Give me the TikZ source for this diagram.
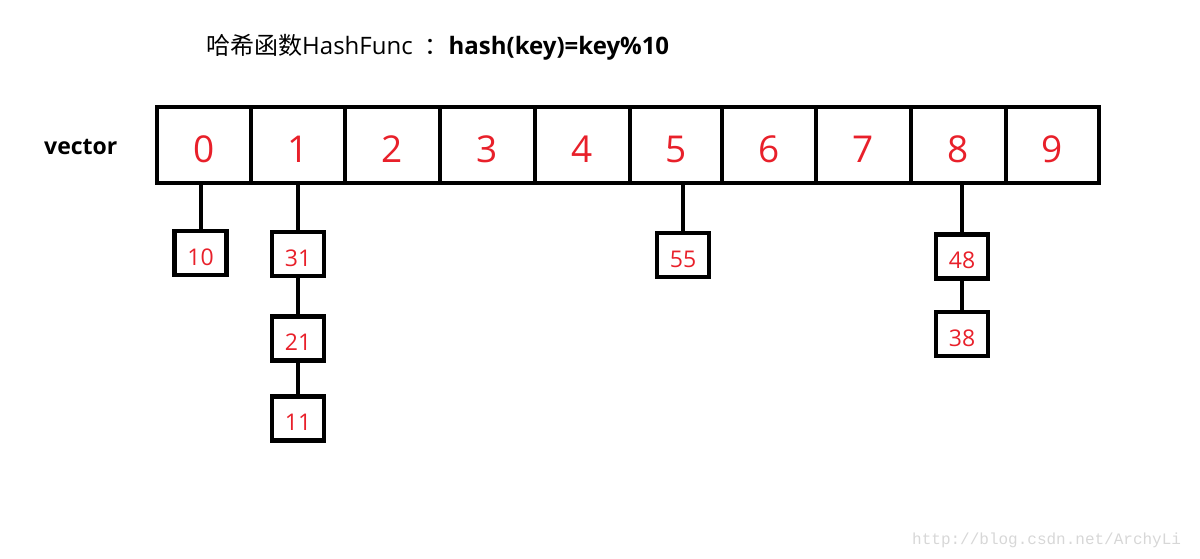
\documentclass[tikz,border=0pt]{standalone}
\usepackage{fontspec}
\setmainfont{Open Sans}
\newfontfamily\cjk{Noto Sans CJK SC}
\newfontfamily\wm{Liberation Mono}
\definecolor{hred}{RGB}{232,32,42}
\definecolor{wmgray}{RGB}{215,215,215}
\begin{document}
\begin{tikzpicture}[x=1pt,y=-1pt,
  cell/.style={draw=black,line width=4pt,inner sep=0pt,minimum height=76pt,text=hred,text height=35pt,text depth=0pt,font=\fontsize{37}{40}\selectfont},
  item/.style={draw=black,line width=4.5pt,inner sep=0pt,minimum width=52pt,minimum height=44pt,text=hred,text height=24pt,text depth=0pt,font=\fontsize{23}{26}\selectfont},
  link/.style={line width=4pt}]
\useasboundingbox (0,0) rectangle (1200,559);
\node[anchor=west,inner sep=0pt,font=\fontsize{24}{28}\selectfont] (title) at (206,47)
  {{\cjk 哈希函数}HashFunc\hspace{0.5em}{\cjk ：}\textbf{hash(key)=key\%10}};
\node[anchor=west,inner sep=0pt,font=\bfseries\fontsize{23}{26}\selectfont] (vec) at (44,147) {vector};
% cells
\node[cell,minimum width=94pt] (c0) at (204,145) {0};
\node[cell,minimum width=94pt] (c1) at (298,145) {1};
\node[cell,minimum width=95pt] (c2) at (392.5,145) {2};
\node[cell,minimum width=95pt] (c3) at (487.5,145) {3};
\node[cell,minimum width=95pt] (c4) at (582.5,145) {4};
\node[cell,minimum width=92pt] (c5) at (676,145) {5};
\node[cell,minimum width=94pt] (c6) at (769,145) {6};
\node[cell,minimum width=95pt] (c7) at (863.5,145) {7};
\node[cell,minimum width=95pt] (c8) at (958.5,145) {8};
\node[cell,minimum width=93pt] (c9) at (1052.5,145) {9};
% chained items
\node[item] (n10) at (200.5,253) {10};
\node[item] (n31) at (298,254) {31};
\node[item] (n21) at (298,338.5) {21};
\node[item] (n11) at (298,418.5) {11};
\node[item] (n55) at (683,255) {55};
\node[item] (n48) at (962,256.5) {48};
\node[item] (n38) at (962,334) {38};
% connectors
\draw[link] (n10.north) -- (n10.north |- c0.south);
\draw[link] (n31.north) -- (n31.north |- c1.south);
\draw[link] (n31.south) -- (n21.north);
\draw[link] (n21.south) -- (n11.north);
\draw[link] (n55.north) -- (n55.north |- c5.south);
\draw[link] (n48.north) -- (n48.north |- c8.south);
\draw[link] (n48.south) -- (n38.north);
% watermark
\node[anchor=west,inner sep=0pt,text=wmgray,font=\wm\fontsize{16}{18}\selectfont] (wmark) at (912,540) {http://blog.csdn.net/ArchyLi};
\end{tikzpicture}
\end{document}
